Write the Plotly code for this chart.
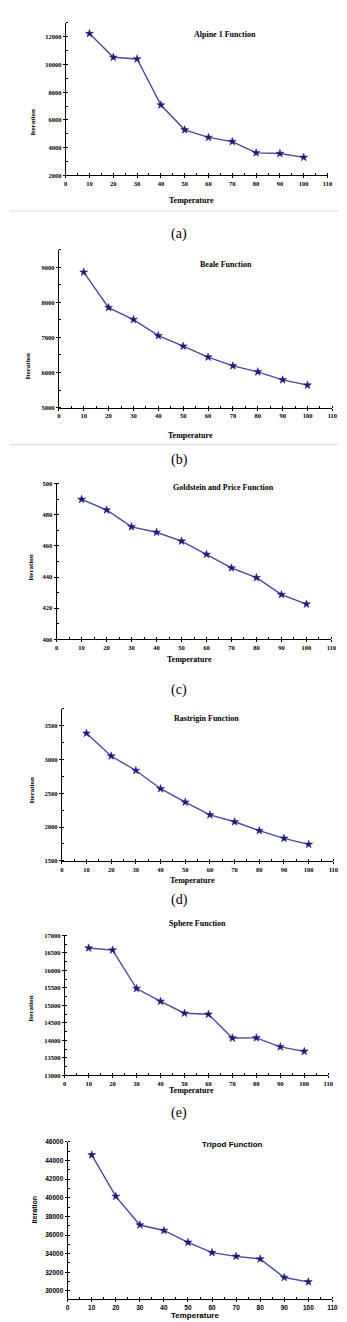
import plotly.graph_objects as go

W, H = 347, 1322

temperature = [10, 20, 30, 40, 50, 60, 70, 80, 90, 100]

alpine = [12230, 10520, 10400, 7080, 5290, 4740, 4440, 3630, 3580, 3300]
beale = [8860, 7850, 7510, 7050, 6750, 6440, 6190, 6020, 5790, 5640]
goldstein = [489.8, 483.0, 472.2, 468.7, 463.0, 454.5, 445.8, 439.6, 428.7, 422.6]
rastrigin = [3390, 3053, 2838, 2568, 2368, 2181, 2078, 1946, 1833, 1743]
sphere = [16640, 16580, 15480, 15115, 14775, 14745, 14065, 14070, 13815, 13685]
tripod = [44610, 40160, 37080, 36490, 35210, 34110, 33710, 33430, 31440, 30970]

titles = ["Alpine 1 Function", "Beale Function", "Goldstein and Price Function",
          "Rastrigin Function", "Sphere Function", "Tripod Function"]
captions = ["(a)", "(b)", "(c)", "(d)", "(e)"]
series = [alpine, beale, goldstein, rastrigin, sphere, tripod]

# layout (pixel boxes): x0, x1, ytop, ybottom
boxes = [
    (57, 325, 11, 164.3),
    (50, 330, 239, 397.7),
    (47.7, 329, 474, 630.7),
    (53, 331, 700.7, 853.3),
    (56, 325.7, 928.3, 1069),
    (59, 330, 1136, 1294.3),
]
yranges = [(2000, 13000), (5000, 9500), (400, 500), (1500, 3750), (13000, 17000), (29080, 46000)]
ydticks = [2000, 1000, 20, 500, 500, 2000]
title_pos = [(220, 16), (221, 247), (219, 478), (236, 710), (192, 923), (228, 1145)]
xtitle_y = [184, 420, 651, 873, 1090, 1316]
ylab_pos = [(17, 95), (12, 340), (15, 558), (16, 782), (15, 1017), (20, 1220)]
caption_pos = [(173, 213), (173, 450), (173, 682), (173, 903), (173, 1117)]
sep_lines = [200, 435]

serif = "Liberation Serif"
sans = "Liberation Sans"

fig = go.Figure()

def fx(px):
    return px / W

def fy(py):
    return 1 - py / H

for i, (vals, box) in enumerate(zip(series, boxes)):
    n = "" if i == 0 else str(i + 1)
    fam = sans if i == 5 else serif
    fig.add_trace(go.Scatter(
        x=temperature, y=vals, mode="lines+markers",
        xaxis="x" + n, yaxis="y" + n,
        line=dict(color="#4a4a9e", width=1.4),
        marker=dict(symbol="star", size=6, color="#1c1c78",
                    line=dict(color="#1c1c78", width=0.5)),
        showlegend=False, hoverinfo="skip",
    ))
    x0, x1, yt, yb = box
    axcommon = dict(showgrid=False, zeroline=False, showline=True,
                    linecolor="black", linewidth=1, ticks="outside",
                    ticklen=2, tickwidth=1, tickcolor="black",
                    tickformat="d",
                    tickfont=dict(family=fam, size=6.5, color="black", weight="bold"))
    fig.update_layout(**{
        "xaxis" + n: dict(domain=[fx(x0), fx(x1)], range=[0, 110], dtick=10, tick0=0,
                          anchor="y" + n,
                          minor=dict(dtick=5, ticks="inside", ticklen=2, tickcolor="black"),
                          **axcommon),
        "yaxis" + n: dict(domain=[fy(yb), fy(yt)], range=list(yranges[i]),
                          dtick=ydticks[i], tick0=0, anchor="x" + n,
                          minor=dict(dtick=ydticks[i] / 2, ticks="inside", ticklen=2, tickcolor="black"),
                          **axcommon),
    })
    tx, ty = title_pos[i]
    fig.add_annotation(x=fx(tx), y=fy(ty), xref="paper", yref="paper",
                       text="<b>%s</b>" % titles[i], showarrow=False,
                       font=dict(family=fam, size=8, color="black"))
    fig.add_annotation(x=fx((x0 + x1) / 2 - 5), y=fy(xtitle_y[i]), xref="paper", yref="paper",
                       text="<b>Temperature</b>", showarrow=False, borderpad=0,
                       font=dict(family=fam, size=8, color="black"))
    lx, ly = ylab_pos[i]
    fig.add_annotation(x=fx(lx), y=fy(ly), xref="paper", yref="paper",
                       text="<b>Iteration</b>", showarrow=False, textangle=-90,
                       font=dict(family=fam, size=7, color="black"))

for cap, (cx, cy) in zip(captions, caption_pos):
    fig.add_annotation(x=fx(cx), y=fy(cy), xref="paper", yref="paper",
                       text=cap, showarrow=False,
                       font=dict(family=serif, size=14, color="black"))

for sy in sep_lines:
    fig.add_shape(type="line", xref="paper", yref="paper",
                  x0=0, x1=1, y0=fy(sy), y1=fy(sy),
                  line=dict(color="#dddddd", width=1))

fig.update_layout(width=W, height=H, margin=dict(l=0, r=0, t=0, b=0),
                  paper_bgcolor="white", plot_bgcolor="white")

fig.write_html("out.html")
